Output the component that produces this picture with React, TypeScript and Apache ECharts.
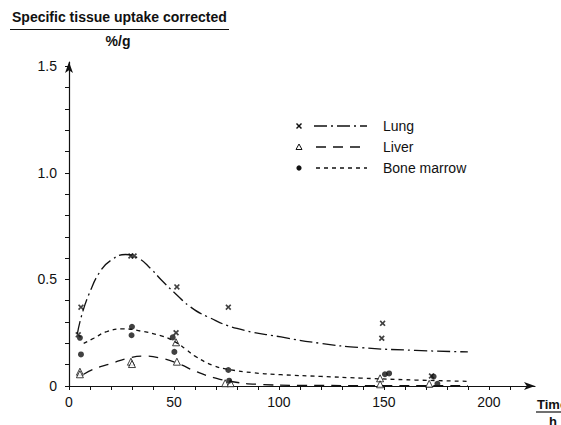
import React, { useEffect, useRef } from "react";
import * as echarts from "echarts";

// Axis ticks and labels
const xTicks = [0, 10, 20, 30, 40, 50, 60, 70, 80, 90, 100, 110, 120, 130, 140, 150, 160, 170, 180, 190, 200, 210];
const xLabels = [0, 50, 100, 150, 200];
const yTicks = [0, 0.1, 0.2, 0.3, 0.4, 0.5, 0.6, 0.7, 0.8, 0.9, 1.0, 1.1, 1.2, 1.3, 1.4, 1.5];
const yLabels = [0, 0.5, 1.0, 1.5];

// Measured points [time h, %/g]
const lungPoints = [
  [4.4, 0.24], [5.7, 0.37], [29.5, 0.61], [31, 0.61], [51.4, 0.465], [51, 0.25],
  [75.9, 0.37], [149.4, 0.294], [149, 0.224], [172.7, 0.047],
];
const liverPoints = [
  [5.2, 0.067], [5.2, 0.055], [29.5, 0.114], [30, 0.103], [51, 0.205], [51.4, 0.114],
  [74.4, 0.013], [77, 0.013], [148.2, 0.036], [148.2, 0.008], [171.6, 0.01],
];
const marrowPoints = [
  [5.2, 0.226], [5.7, 0.148], [30, 0.278], [29.8, 0.238], [49.4, 0.228], [50.2, 0.16],
  [75.9, 0.075], [76.3, 0.025], [150.5, 0.055], [152.5, 0.059], [173.7, 0.044], [175.5, 0.01],
];

// Fitted curves
const lungCurve = [
  [4, 0.245], [6, 0.33], [9.7, 0.435], [15, 0.54], [20, 0.59], [27, 0.617], [33, 0.6],
  [39, 0.55], [44, 0.497], [50, 0.44], [58, 0.37], [66, 0.325], [80, 0.27], [101, 0.23],
  [120, 0.2], [139, 0.18], [165, 0.167], [190, 0.16],
];
const liverCurve = [
  [7, 0.055], [12, 0.08], [20, 0.105], [28, 0.13], [36, 0.14], [44, 0.13], [52, 0.105],
  [60, 0.07], [68, 0.042], [78, 0.02], [90, 0.008], [110, 0.003], [150, 0.002], [190, 0.002],
];
const marrowCurve = [
  [7, 0.2], [12, 0.225], [18, 0.255], [26, 0.268], [34, 0.258], [44, 0.235], [50, 0.21],
  [56, 0.17], [60, 0.14], [69, 0.095], [76, 0.078], [88, 0.062], [101, 0.053], [120, 0.045],
  [139, 0.037], [165, 0.028], [190, 0.022],
];

const legendNames = ["Lung", "Liver", "Bone marrow"];

const FONT = "'Liberation Sans', Arial, Helvetica, sans-serif";
const INK = "#111";
const CROSS = "path://M0,2L2,0L5,3L8,0L10,2L7,5L10,8L8,10L5,7L2,10L0,8L3,5Z";
const LUNG_DASH = [13, 4, 2, 4];
const LIVER_DASH = [10, 7];
const MARROW_DASH = [4, 4];

export default function App() {
  const ref = useRef<HTMLDivElement>(null);
  useEffect(() => {
    if (!ref.current) return;
    const chart = echarts.init(ref.current, null, { renderer: "svg" });
    const legendY = [126, 147, 168];
    const lx = 299;
    const legendGraphics: any[] = [];
    legendGraphics.push(
      { type: "line", shape: { x1: lx - 2.5, y1: legendY[0] - 2.5, x2: lx + 2.5, y2: legendY[0] + 2.5 }, style: { stroke: INK, lineWidth: 1.5 } },
      { type: "line", shape: { x1: lx - 2.5, y1: legendY[0] + 2.5, x2: lx + 2.5, y2: legendY[0] - 2.5 }, style: { stroke: INK, lineWidth: 1.5 } },
      { type: "line", shape: { x1: 314, y1: legendY[0], x2: 367, y2: legendY[0] }, style: { stroke: INK, lineWidth: 1.3, lineDash: LUNG_DASH } },
      { type: "polygon", shape: { points: [[lx, legendY[1] - 3], [lx + 3, legendY[1] + 2.5], [lx - 3, legendY[1] + 2.5]] }, style: { fill: "#fff", stroke: INK, lineWidth: 1 } },
      { type: "line", shape: { x1: 316, y1: legendY[1], x2: 366, y2: legendY[1] }, style: { stroke: INK, lineWidth: 1.3, lineDash: LIVER_DASH } },
      { type: "circle", shape: { cx: lx, cy: legendY[2], r: 2.6 }, style: { fill: INK } },
      { type: "line", shape: { x1: 316, y1: legendY[2], x2: 367, y2: legendY[2] }, style: { stroke: INK, lineWidth: 1.3, lineDash: MARROW_DASH } },
    );
    legendNames.forEach((n, i) => {
      legendGraphics.push({
        type: "text", x: 383, y: legendY[i],
        style: { text: n, fill: INK, font: `14px ${FONT}`, textVerticalAlign: "middle" },
      });
    });

    chart.setOption({
      animation: false,
      backgroundColor: "#fff",
      grid: { left: 69, right: 26, top: 62, bottom: 39, containLabel: false },
      xAxis: {
        type: "value", min: 0, max: 222, interval: 10,
        axisLine: { show: true, lineStyle: { color: INK, width: 1.2 }, symbol: ["none", "arrow"], symbolSize: [6, 11] },
        axisTick: { show: true, length: 4, lineStyle: { color: INK }, customValues: xTicks },
        axisLabel: { customValues: xLabels, color: INK, fontFamily: FONT, fontSize: 14, margin: 9, formatter: (v: number) => String(v) },
        splitLine: { show: false },
      },
      yAxis: {
        type: "value", min: 0, max: 1.52, interval: 0.1,
        axisLine: { show: true, lineStyle: { color: INK, width: 1.2 }, symbol: ["none", "arrow"], symbolSize: [6, 11] },
        axisTick: { show: true, length: 4, lineStyle: { color: INK }, customValues: yTicks },
        axisLabel: { customValues: yLabels, color: INK, fontFamily: FONT, fontSize: 14, margin: 12, formatter: (v: number) => (v === 0 ? "0" : v.toFixed(1)) },
        splitLine: { show: false },
      },
      graphic: [
        { type: "text", x: 12, y: 10, style: { text: "Specific tissue uptake corrected", fill: INK, font: `bold 14px ${FONT}` } },
        { type: "line", shape: { x1: 10, y1: 29.5, x2: 229, y2: 29.5 }, style: { stroke: INK, lineWidth: 1.2 } },
        { type: "text", x: 118, y: 41, style: { text: "%/g", fill: INK, font: `bold 14px ${FONT}`, textAlign: "center", textVerticalAlign: "middle" } },
        { type: "text", x: 537, y: 404, style: { text: "Time", fill: INK, font: `bold 13px ${FONT}`, textVerticalAlign: "middle" } },
        { type: "line", shape: { x1: 536, y1: 412, x2: 561, y2: 412 }, style: { stroke: INK, lineWidth: 1.2 } },
        { type: "text", x: 553, y: 421, style: { text: "h", fill: INK, font: `bold 13px ${FONT}`, textAlign: "center", textVerticalAlign: "middle" } },
        ...legendGraphics,
      ],
      series: [
        { type: "line", data: lungCurve, smooth: 0.5, showSymbol: false, lineStyle: { color: INK, width: 1.3, type: LUNG_DASH }, silent: true },
        { type: "line", data: liverCurve, smooth: 0.5, showSymbol: false, lineStyle: { color: INK, width: 1.3, type: LIVER_DASH }, silent: true },
        { type: "line", data: marrowCurve, smooth: 0.5, showSymbol: false, lineStyle: { color: INK, width: 1.3, type: MARROW_DASH }, silent: true },
        { name: "Lung", type: "scatter", data: lungPoints, symbol: CROSS, symbolSize: 6, itemStyle: { color: INK } },
        { name: "Liver", type: "scatter", data: liverPoints, symbol: "triangle", symbolSize: 7, itemStyle: { color: "#fff", borderColor: INK, borderWidth: 1 } },
        { name: "Bone marrow", type: "scatter", data: marrowPoints, symbol: "circle", symbolSize: 6, itemStyle: { color: INK } },
      ],
    });
    return () => chart.dispose();
  }, []);
  return <div ref={ref} style={{ position: "absolute", left: 0, top: 0, width: 561, height: 425 }} />;
}
